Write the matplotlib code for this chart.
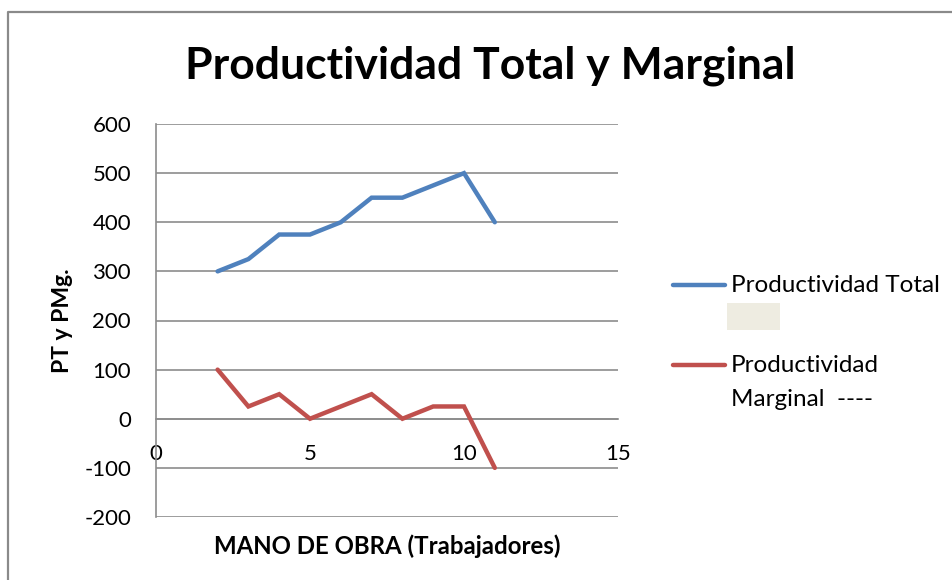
import matplotlib
matplotlib.use("Agg")
import matplotlib.pyplot as plt
from matplotlib.lines import Line2D
from matplotlib.patches import Rectangle

plt.rcParams['font.family'] = ['Lato', 'DejaVu Sans']
plt.rcParams['axes.unicode_minus'] = False

trabajadores = [2, 3, 4, 5, 6, 7, 8, 9, 10, 11]
prod_total = [300, 325, 375, 375, 400, 450, 450, 475, 500, 400]
prod_marginal = [100, 25, 50, 0, 25, 50, 0, 25, 25, -100]
xticks = [0, 5, 10, 15]
yticks = [-200, -100, 0, 100, 200, 300, 400, 500, 600]

blue = '#4F81BD'
red = '#C0504D'
grid_c = '#8C8C8C'

W, H = 953, 580
fig = plt.figure(figsize=(W / 100, H / 100), dpi=100)
fig.patch.set_facecolor('white')
# outer frame (only left and top edges visible)
fig.lines.append(Line2D([8 / W, 8 / W, 1.0], [0.0, 1 - 12 / H, 1 - 12 / H], transform=fig.transFigure,
                        color='#8A8A8A', linewidth=1.6))

ax = fig.add_axes([156 / W, 1 - 517 / H, (618 - 156) / W, (517 - 124) / H])
ax.plot(trabajadores, prod_total, color=blue, linewidth=3.2, solid_capstyle='round', solid_joinstyle='miter', zorder=3)
ax.plot(trabajadores, prod_marginal, color=red, linewidth=3.2, solid_capstyle='round', solid_joinstyle='miter', zorder=3)

ax.set_xlim(0, 15)
ax.set_ylim(-200, 600)
ax.set_xticks(xticks)
ax.set_yticks(yticks)
ax.yaxis.grid(True, color=grid_c, linewidth=1.2)
ax.set_axisbelow(True)
for s in ['top', 'right']:
    ax.spines[s].set_visible(False)
ax.spines['left'].set_color(grid_c)
ax.spines['left'].set_linewidth(1.2)
ax.spines['bottom'].set_position(('data', 0))
ax.spines['bottom'].set_color(grid_c)
ax.spines['bottom'].set_linewidth(1.2)
ax.tick_params(axis='both', length=0, labelsize=16, colors='black')
ax.tick_params(axis='x', pad=18)
ax.tick_params(axis='y', pad=18)

ax.set_xlabel('MANO DE OBRA (Trabajadores)', fontsize=17.3, fontweight='bold', labelpad=0)
ax.xaxis.set_label_coords(0.5, (517 - 534) / 393)
ax.set_ylabel('PT y PMg.', fontsize=16.5, fontweight='bold')
ax.yaxis.set_label_coords((73 - 156) / 462, 0.5)

fig.text(490 / W, 1 - 66 / H, 'Productividad Total y Marginal', ha='center', va='center',
         fontsize=32, fontweight='bold')

# legend
fig.lines.append(Line2D([673 / W, 725 / W], [1 - 285 / H, 1 - 285 / H], transform=fig.transFigure,
                        color=blue, linewidth=3.2, solid_capstyle='round'))
fig.text(731 / W, 1 - 285 / H, 'Productividad Total', ha='left', va='center', fontsize=17.5)
fig.patches.append(Rectangle((727 / W, 1 - 330 / H), 53 / W, 27 / H, transform=fig.transFigure,
                             facecolor='#EEECE1', edgecolor='none'))
fig.lines.append(Line2D([673 / W, 725 / W], [1 - 365 / H, 1 - 365 / H], transform=fig.transFigure,
                        color=red, linewidth=3.2, solid_capstyle='round'))
fig.text(731 / W, 1 - 365 / H, 'Productividad', ha='left', va='center', fontsize=17.5)
fig.text(731 / W, 1 - 399 / H, 'Marginal  ----', ha='left', va='center', fontsize=17.5)

fig.savefig('out.png', dpi=100)
